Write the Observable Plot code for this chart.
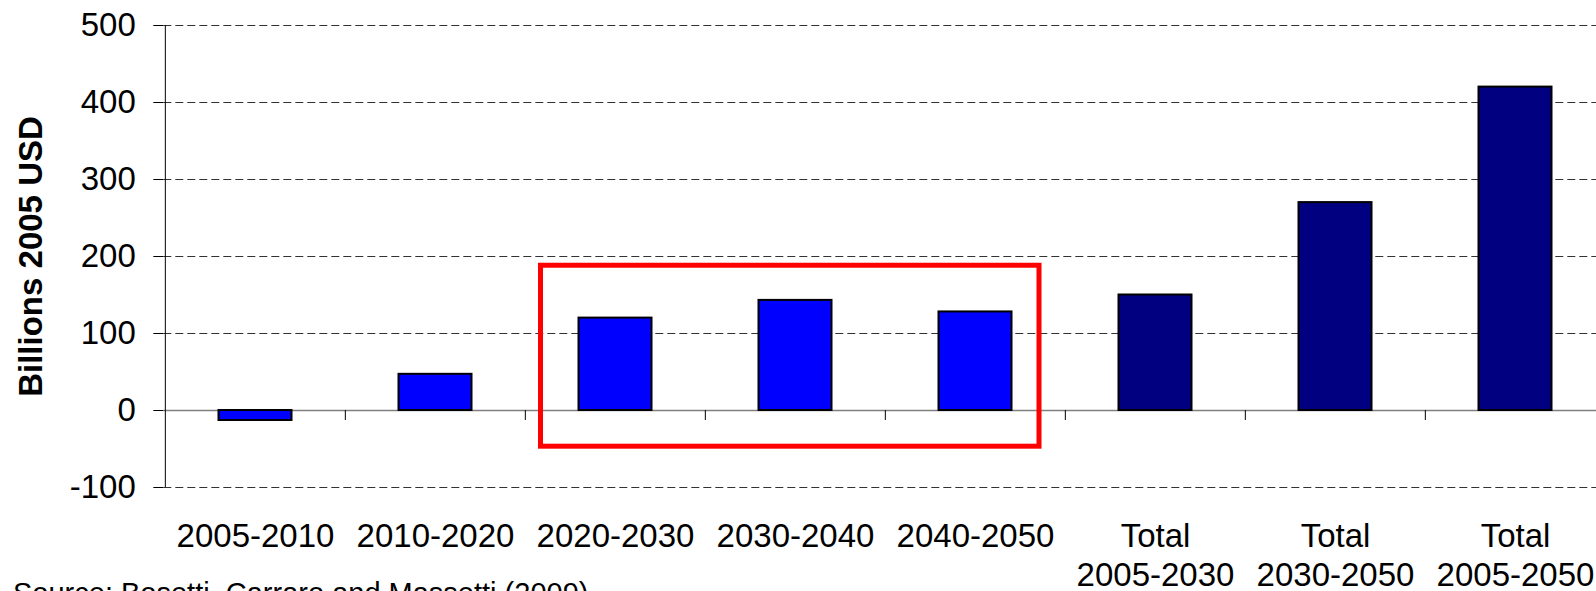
<!DOCTYPE html>
<html><head><meta charset="utf-8">
<script src="https://cdn.jsdelivr.net/npm/d3@7"></script>
<script src="https://cdn.jsdelivr.net/npm/@observablehq/plot@0.6"></script>
<style>
body{margin:0;background:#fff;}
#wrap{position:relative;width:1596px;height:591px;overflow:hidden;font-family:"Liberation Sans",Arial,sans-serif;background:#fff;}
#caption{position:absolute;left:13px;top:579px;font-size:29px;line-height:29px;white-space:nowrap;color:#000;}
</style></head><body>
<div id="wrap"><div id="chart"></div><div id="caption">Source: Bosetti, Carraro and Massetti (2009)</div></div>
<script>
const categories = ["2005-2010","2010-2020","2020-2030","2030-2040","2040-2050","Total 2005-2030","Total 2030-2050","Total 2005-2050"];
const values = [-13, 47, 120, 143, 128, 150, 270, 420];
const groups = ["period","period","period","period","period","total","total","total"];
const yTicks = [-100, 0, 100, 200, 300, 400, 500];
const gridTicks = [-100, 100, 200, 300, 400, 500];
const yLabel = "Billions 2005 USD";
const highlight = {x1: "2020-2030", x2: "2040-2050", y1: -47, y2: 188};
const groupNames = ["period", "total"];
const groupColors = ["#0000ff", "#000080"];

const data = categories.map((c, i) => ({category: c, value: values[i], group: groups[i]}));
const W = 1596, H = 591, mLeft = 163.3, mTop = 25, frameBottom = 487, xEnd = 1606;
const step = (xEnd - mLeft) / categories.length;
const font = "'Liberation Sans', Arial, sans-serif";

const chart = Plot.plot({
  width: W, height: H,
  marginLeft: mLeft, marginRight: 0, marginTop: mTop, marginBottom: H - frameBottom,
  style: {fontFamily: font, fontSize: "33px", color: "#000", background: "#fff", overflow: "visible"},
  x: {domain: categories, range: [mLeft, xEnd], padding: 0},
  y: {domain: [-100, 500]},
  color: {domain: groupNames, range: groupColors},
  marks: [
    Plot.ruleY(gridTicks, {stroke: "#333", strokeWidth: 1, strokeDasharray: "8,4"}),
    Plot.ruleY([0], {stroke: "#808080", strokeWidth: 1.5}),
    Plot.ruleX(categories.slice(1), {y1: 0, y2: -13, dx: -step / 2, stroke: "#000"}),
    Plot.barY(data, {x: "category", y: "value", fill: "group", stroke: "#000", strokeWidth: 2, insetLeft: 53.5, insetRight: 53.5}),
    Plot.rect([highlight], {x1: "x1", x2: "x2", y1: "y1", y2: "y2", fill: "none", stroke: "#ff0000", strokeWidth: 5, insetLeft: 15.5, insetRight: 26}),
    Plot.ruleX([categories[0]], {y1: -100, y2: 500, dx: -step / 2, stroke: "#000"}),
    Plot.axisY(yTicks, {tickSize: 10, tickPadding: 18, tickFormat: d => String(d), fontSize: 33, label: null}),
    Plot.axisX({tickSize: 0, tickPadding: 31, tickFormat: d => d.replace("Total ", "Total\n"), fontSize: 33, lineHeight: 1.2, label: null}),
    Plot.text([yLabel], {frameAnchor: "left", text: d => d, rotate: -90, dx: -132, textAnchor: "middle", fontWeight: "bold", fontSize: 33})
  ]
});
document.getElementById("chart").appendChild(chart);
</script>
</body></html>
